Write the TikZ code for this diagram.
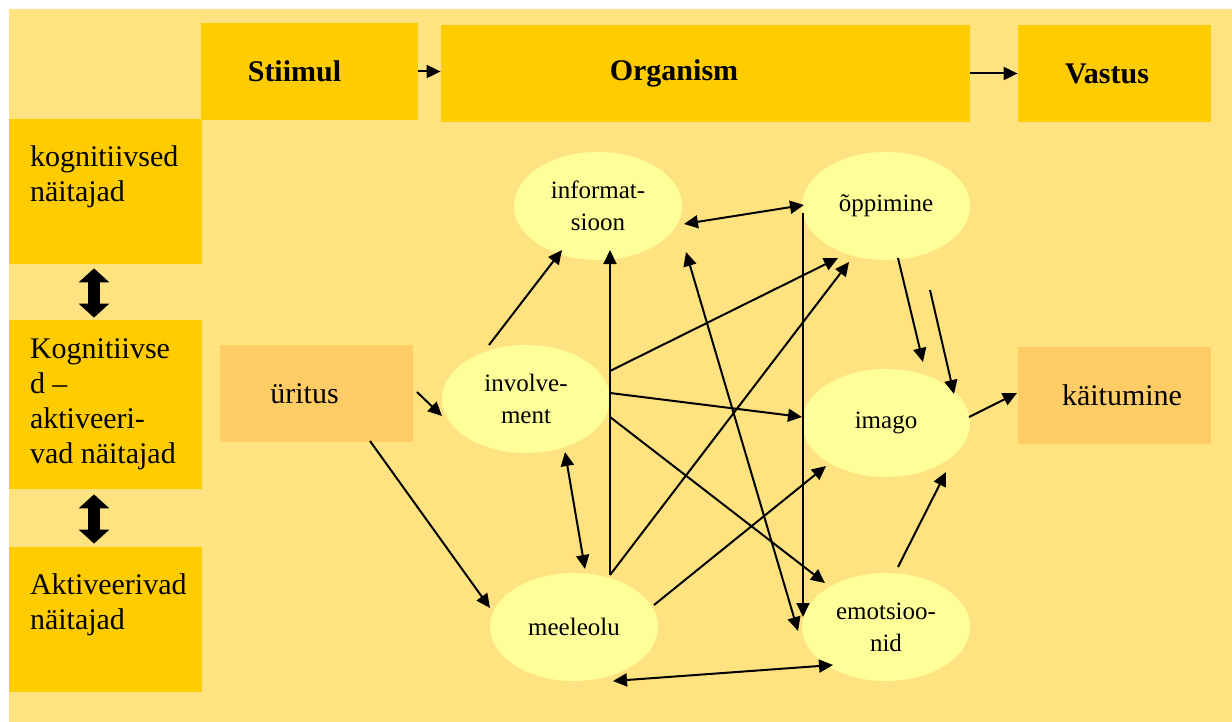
\documentclass[tikz,border=0pt]{standalone}
\usepackage{fontspec}
\setmainfont{Liberation Serif}
\usetikzlibrary{arrows.meta,calc,shapes.geometric}

\definecolor{bgyellow}{HTML}{FFE381}
\definecolor{boxgold}{HTML}{FFCC00}
\definecolor{boxorange}{HTML}{FFCC66}
\definecolor{ovalyellow}{HTML}{FFFF99}

\newcommand{\sidetext}[3]{\parbox[c][#1][t]{96.5pt}{\leftskip=10.5pt\relax\vspace*{#2}#3}}

\begin{document}
\begin{tikzpicture}[x=0.5pt,y=-0.5pt]
\tikzstyle{every node}=[inner sep=0pt, font=\fontsize{15}{17.5}\selectfont]
\tikzstyle{head}=[fill=boxgold, minimum height=48.5pt, font=\fontsize{15}{17.5}\selectfont\bfseries]
\tikzstyle{side}=[fill=boxgold, minimum width=96.5pt]
\tikzstyle{plain}=[fill=boxorange, minimum width=96.5pt, minimum height=48.5pt]
\tikzstyle{oval}=[ellipse, fill=ovalyellow, minimum width=84pt, minimum height=54pt, align=center, font=\fontsize{12.5}{16}\selectfont]
\tikzstyle{arr}=[-{Triangle[length=7pt,width=6.5pt]}, line width=1pt]
\tikzstyle{darr}=[{Triangle[length=7pt,width=6.5pt]}-{Triangle[length=7pt,width=6.5pt]}, line width=1pt]
\tikzstyle{fat}=[{Triangle[length=7pt,width=15pt]}-{Triangle[length=7pt,width=15pt]}, line width=6pt]

	\useasboundingbox (0,0) rectangle (1232,722);
	\fill[bgyellow] (9,9) rectangle (1232,722);

	\node[head, minimum width=108.5pt] (stim) at (309.5,71.5) {Stiimul\hspace*{15pt}};
	\node[head, minimum width=264.5pt] (org) at (705.5,73.5) {Organism\hspace*{31.5pt}};
	\node[head, minimum width=96.5pt] (vast) at (1114.5,73.5) {Vastus\hspace*{7.5pt}};
	\draw[arr] (stim.east) -- (stim.east -| org.west);
	\draw[arr] (org.east) -- (vast.west);

	\node[side] (kog) at (105.5,191.5) {\sidetext{72.5pt}{13.5pt}{kognitiivsed\\näitajad}};
	\node[side] (kogakt) at (105.5,404.5) {\sidetext{84.5pt}{9.5pt}{Kognitiivse\\d –\\aktiveeri-\\vad näitajad}};
	\node[side] (akt) at (105.5,619.5) {\sidetext{72.5pt}{13.5pt}{Aktiveerivad\\näitajad}};
	\draw[fat] ($(kog.south)+(-11.5,4)$) -- ($(kogakt.north)+(-11.5,-2)$);
	\draw[fat] ($(kogakt.south)+(-11.5,5)$) -- ($(akt.north)+(-11.5,-3)$);

	\node[plain] (urit) at (316.5,393.5) {üritus\hspace*{12pt}};
	\node[plain] (kait) at (1114.5,395) {\hspace*{7.5pt}käitumine};

	\node[oval] (info) at (598,206) {informat-\\sioon};
	\node[oval] (opp) at (886,206) {õppimine};
	\node[oval] (inv) at (526,399) {involve-\\ment};
	\node[oval] (imago) at (886,423) {imago};
	\node[oval] (meel) at (574,627) {meeleolu};
	\node[oval] (emo) at (886,627) {emotsioo-\\nid};

	\draw[arr] ($(urit)+(100.5,-1.5)$) -- ($(inv)+(-84,17)$);
	\draw[arr] ($(urit)+(53.5,47.5)$) -- ($(meel)+(-84,-19)$);
	\draw[arr] ($(inv)+(-37,-54)$) -- ($(info)+(-36,44)$);
	\draw[arr] ($(meel)+(36,-52)$) -- ($(info)+(12,44)$);
	\draw[arr] ($(inv)+(84,-28)$) -- ($(opp)+(-48,52)$);
	\draw[arr] ($(inv)+(84,-6)$) -- ($(imago)+(-84,-6)$);
	\draw[arr] ($(inv)+(84,18)$) -- ($(emo)+(-61,-44)$);
	\draw[arr] ($(meel)+(36,-52)$) -- ($(opp)+(-37,56)$);
	\draw[darr] ($(info)+(88,46)$) -- ($(emo)+(-88,4)$);
	\draw[arr] ($(opp)+(-83,7)$) -- ($(emo)+(-83,-10)$);
	\draw[darr] ($(info)+(86,18)$) -- ($(opp)+(-82,-1)$);
	\draw[darr] ($(inv)+(39,53)$) -- ($(meel)+(11,-58)$);
	\draw[arr] ($(meel)+(80,-22)$) -- ($(imago)+(-60,43)$);
	\draw[arr] ($(opp)+(12,52)$) -- ($(imago)+(37,-61)$);
	\draw[arr] ($(opp)+(44,84)$) -- ($(imago)+(68,-29)$);
	\draw[arr] ($(emo)+(12,-60)$) -- ($(imago)+(60,49)$);
	\draw[arr] ($(imago)+(83,-6)$) -- ($(kait)+(-97.5,-2)$);
	\draw[darr] ($(meel)+(39,54)$) -- ($(emo)+(-53,38)$);
\end{tikzpicture}
\end{document}
